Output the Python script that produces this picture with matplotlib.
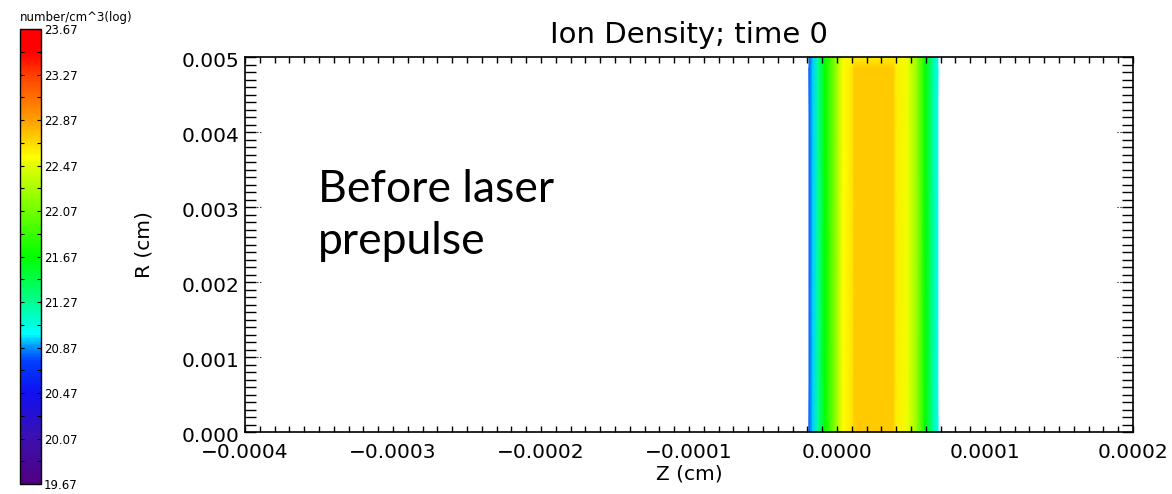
import numpy as np
import matplotlib.pyplot as plt
import matplotlib.transforms as mtransforms
from matplotlib.colors import LinearSegmentedColormap

# ---------------------------
# Data
# ---------------------------
# z positions (cm) of the profile nodes across the target slab
z_nodes = np.array([-1.89, -1.62, -1.28, -0.81, -0.14, 0.41, 0.88, 1.10, 1.15,
                    3.85, 3.90, 4.05, 4.73, 5.41, 5.95, 6.42, 6.82]) * 1e-5
# log10 ion density (number/cm^3) along z, body of the slab
logn_body = np.array([20.80, 20.95, 21.25, 21.67, 22.15, 22.55, 22.62, 22.65, 22.73,
                      22.73, 22.65, 22.60, 22.50, 22.20, 21.70, 21.30, 21.00])
# same profile at the very top of the slab (core a bit lighter)
logn_top = np.array([20.80, 20.95, 21.25, 21.67, 22.15, 22.50, 22.56, 22.58, 22.60,
                     22.60, 22.58, 22.56, 22.50, 22.20, 21.70, 21.30, 21.00])
r_nodes = np.array([0.0, 0.00485, 0.0050])

xticks = [-0.0004, -0.0003, -0.0002, -0.0001, 0.0, 0.0001, 0.0002]
xticklabels = ["\u22120.0004", "\u22120.0003", "\u22120.0002", "\u22120.0001",
               "0.0000", "0.0001", "0.0002"]
yticks = [0.0, 0.001, 0.002, 0.003, 0.004, 0.005]
yticklabels = ["0.000", "0.001", "0.002", "0.003", "0.004", "0.005"]
cbar_ticks = [19.67, 20.07, 20.47, 20.87, 21.27, 21.67, 22.07, 22.47, 22.87, 23.27, 23.67]
vmin, vmax = 19.67, 23.67

# IDL-like rainbow colour table
cmap = LinearSegmentedColormap.from_list("idl_rainbow", [
    (0.00, "#500080"), (0.10, "#3c10b0"), (0.20, "#1010f0"), (0.27, "#0040ff"),
    (0.30, "#0090ff"), (0.33, "#00ffff"), (0.40, "#00ff90"), (0.50, "#00ff00"),
    (0.60, "#70ff00"), (0.70, "#e0ff00"), (0.72, "#ffff00"), (0.80, "#ffa000"),
    (0.90, "#ff4000"), (0.95, "#ff0000"), (1.00, "#ff0000"),
])

plt.rcParams.update({"font.family": "DejaVu Sans", "axes.linewidth": 1.2})

fig = plt.figure(figsize=(11.72, 4.94), dpi=100)
ax = fig.add_axes([0.2090, 0.1255, 0.7577, 0.7591])
cax = fig.add_axes([0.0171, 0.020, 0.0179, 0.921])

# ---------------------------
# Density map
# ---------------------------
Z, R = np.meshgrid(z_nodes, r_nodes)
C = np.vstack([logn_body, logn_body, logn_top])
mesh = ax.pcolormesh(Z, R, C, cmap=cmap, vmin=vmin, vmax=vmax, shading="gouraud")

ax.set_xlim(-0.0004, 0.0002)
ax.set_ylim(0.0, 0.005)
ax.set_xticks(xticks)
ax.set_xticklabels(xticklabels)
ax.set_yticks(yticks)
ax.set_yticklabels(yticklabels)
ax.set_xticks(np.arange(-0.0004, 0.00020001, 0.00001), minor=True)
ax.set_yticks(np.arange(0.0, 0.0050001, 0.0001), minor=True)
ax.tick_params(axis="x", which="both", direction="in", top=True, length=4,
               width=1, labelsize=14.5, pad=8)
ax.tick_params(axis="y", which="both", direction="in", right=True, length=8,
               width=1, labelsize=14.5, pad=4)
# IDL puts the R labels a little below their ticks
shift = mtransforms.ScaledTranslation(0, -2 / 100, fig.dpi_scale_trans)
for lab in ax.get_yticklabels():
    lab.set_transform(lab.get_transform() + shift)

# short dotted extensions at the major R ticks, as IDL draws them
for yv in yticks[1:-1]:
    ax.plot([0.0, 0.018], [yv, yv], transform=ax.get_yaxis_transform(),
            ls=":", lw=0.8, color="k")
    ax.plot([0.982, 1.0], [yv, yv], transform=ax.get_yaxis_transform(),
            ls=":", lw=0.8, color="k")

ax.set_title("Ion Density; time 0", fontsize=21, pad=10)
ax.set_xlabel("Z (cm)", fontsize=14.5, labelpad=2)
ax.set_ylabel("R (cm)", fontsize=14.5, labelpad=20)

ax.text(0.082, 0.614, "Before laser", transform=ax.transAxes, fontsize=32,
        family="Lato", va="baseline", ha="left")
ax.text(0.082, 0.476, "prepulse", transform=ax.transAxes, fontsize=32,
        family="Lato", va="baseline", ha="left")

# ---------------------------
# Colour bar
# ---------------------------
cb = fig.colorbar(mesh, cax=cax, ticks=cbar_ticks)
cb.ax.set_yticklabels([f"{t:.2f}" for t in cbar_ticks])
cb.ax.set_yticks(np.arange(19.87, 23.6, 0.4), minor=True)
cb.ax.tick_params(which="both", direction="in", left=True, right=True,
                  length=3, width=0.8, labelsize=8.5, pad=2)
cb.outline.set_linewidth(1.0)
fig.text(0.0171, 0.965, "number/cm^3(log)", fontsize=8.5, ha="left", va="center")

plt.savefig("out.png", dpi=100)
